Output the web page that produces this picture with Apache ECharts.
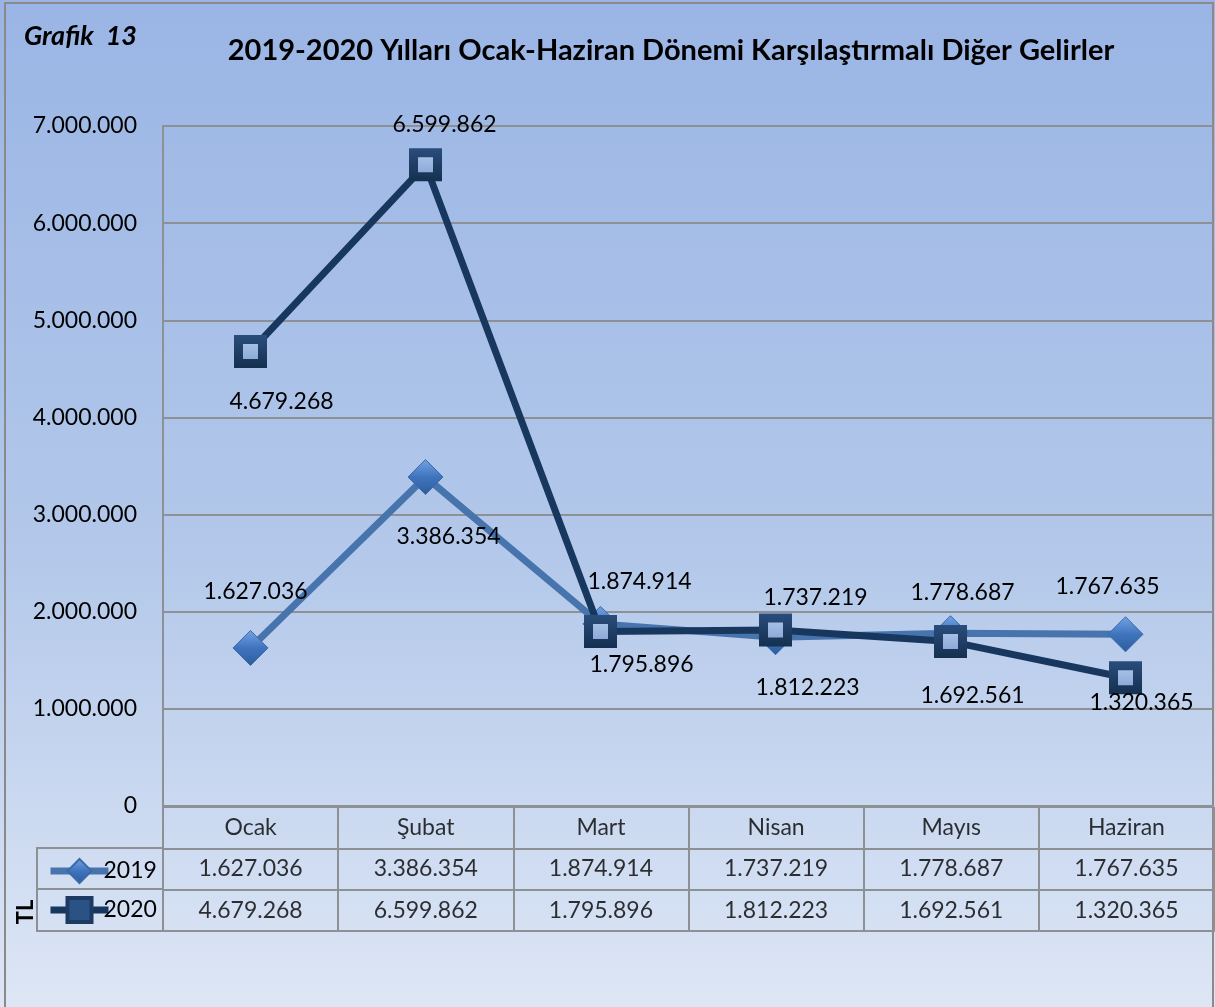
<!DOCTYPE html>
<html>
<head>
<meta charset="utf-8">
<script src="https://cdn.jsdelivr.net/npm/echarts@6/dist/echarts.min.js"></script>
<style>
  html, body { margin: 0; padding: 0; }
  #chart { width: 1215px; height: 1007px; }
</style>
</head>
<body>
<div id="chart"></div>
<script>
// veriler
const months = ['Ocak', 'Şubat', 'Mart', 'Nisan', 'Mayıs', 'Haziran']
const seriesNames = ['2019', '2020']
const gelir2019 = [1627036, 3386354, 1874914, 1737219, 1778687, 1767635]
const gelir2020 = [4679268, 6599862, 1795896, 1812223, 1692561, 1320365]
const yMax = 7000000
const yStep = 1000000

// etiket kaydırmaları (yerleşim)
const off2019 = [[5, -56], [23, 60], [39, -42], [40, -40], [12, -41], [-18, -48]]
const off2020 = [[31, 50], [19, -40], [41, 33], [32, 58], [22, 54], [16, 25]]

const FONT = 'Lato, "Open Sans", sans-serif'
const gridColor = '#8d9095'

// binlik ayırıcı nokta
const fmt = v => String(v).replace(/\B(?=(\d{3})+(?!\d))/g, '.')

const chart = echarts.init(document.getElementById('chart'), null, { renderer: 'canvas' })

const diamondFill = new echarts.graphic.LinearGradient(0, 0, 0, 1, [
  { offset: 0, color: '#74a4e4' },
  { offset: 0.5, color: '#3f74bd' },
  { offset: 1, color: '#2d5c9c' }
])
const squareFill = new echarts.graphic.LinearGradient(0, 0, 0, 1, [
  { offset: 0, color: '#b3cbee' },
  { offset: 1, color: '#7f9fd0' }
])
const squareBorder = new echarts.graphic.LinearGradient(0, 0, 0, 1, [
  { offset: 0, color: '#2a4d7c' },
  { offset: 1, color: '#15304f' }
])

// tablo hücreleri
const cells = []
months.forEach((m, i) => {
  cells.push([i, 0, m])
  cells.push([i, 1, fmt(gelir2019[i])])
  cells.push([i, 2, fmt(gelir2020[i])])
})

const option = {
  backgroundColor: new echarts.graphic.LinearGradient(0, 0, 0, 1, [
    { offset: 0, color: '#9ab5e5' },
    { offset: 0.55, color: '#b3c8ea' },
    { offset: 1, color: '#dde6f5' }
  ]),
  textStyle: { fontFamily: FONT },
  title: [
    {
      text: '2019-2020 Yılları Ocak-Haziran Dönemi Karşılaştırmalı Diğer Gelirler',
      left: 666,
      top: 31,
      textAlign: 'center',
      textStyle: { fontFamily: FONT, fontSize: 29, fontWeight: 'bold', color: '#000' }
    },
    {
      text: 'Grafik  13',
      left: 19,
      top: 18,
      textStyle: { fontFamily: FONT, fontSize: 27, fontWeight: 'bold', fontStyle: 'italic', color: '#000' }
    }
  ],
  legend: {
    data: [
      { name: '2019' },
      { name: '2020', itemStyle: { color: '#2b5284', borderColor: '#1d3a62', borderWidth: 4 } }
    ],
    orient: 'vertical',
    left: 42,
    top: 853,
    itemWidth: 58,
    itemHeight: 30,
    itemGap: 12,
    selectedMode: false,
    lineStyle: { width: 7 },
    textStyle: { fontFamily: FONT, fontSize: 23, color: '#000', padding: [0, 0, 0, -10] }
  },
  graphic: [
    {
      type: 'rect',
      shape: { x: 5, y: 3, width: 1208, height: 1010 },
      style: { fill: null, stroke: '#8a8a8a', lineWidth: 2 },
      silent: true
    },
    {
      type: 'rect',
      shape: { x: 37, y: 848, width: 126, height: 83 },
      style: { fill: null, stroke: gridColor, lineWidth: 2 },
      silent: true
    },
    {
      type: 'line',
      shape: { x1: 37, y1: 889, x2: 163, y2: 889 },
      style: { stroke: gridColor, lineWidth: 2 },
      silent: true
    },
    {
      type: 'text',
      x: 26,
      y: 912,
      rotation: Math.PI / 2,
      style: {
        text: 'TL',
        fontFamily: FONT,
        fontSize: 22,
        fontWeight: 'bold',
        fill: '#000',
        align: 'center',
        verticalAlign: 'middle'
      }
    }
  ],
  grid: [
    { left: 163, right: 2, top: 126, height: 680 },
    { left: 163, right: 1, top: 807, height: 124 }
  ],
  xAxis: [
    {
      type: 'category',
      gridIndex: 0,
      data: months,
      boundaryGap: true,
      axisLine: { show: true, lineStyle: { color: gridColor, width: 2 } },
      axisTick: { show: false },
      axisLabel: { show: false }
    },
    {
      type: 'category',
      gridIndex: 1,
      data: months,
      boundaryGap: true,
      axisLine: { show: true, lineStyle: { color: gridColor, width: 2 } },
      axisTick: { show: false },
      axisLabel: { show: false },
      splitLine: { show: true, lineStyle: { color: gridColor, width: 2 } }
    }
  ],
  yAxis: [
    {
      type: 'value',
      gridIndex: 0,
      min: 0,
      max: yMax,
      interval: yStep,
      axisLine: { show: true, lineStyle: { color: gridColor, width: 2 } },
      axisTick: { show: false },
      splitLine: { show: true, lineStyle: { color: gridColor, width: 2 } },
      axisLabel: {
        margin: 26,
        fontFamily: FONT,
        fontSize: 23,
        color: '#000',
        formatter: v => fmt(v)
      }
    },
    {
      type: 'category',
      gridIndex: 1,
      data: ['', '2019', '2020'],
      inverse: true,
      axisLine: { show: true, lineStyle: { color: gridColor, width: 2 } },
      axisTick: { show: false },
      axisLabel: { show: false },
      splitLine: { show: true, lineStyle: { color: gridColor, width: 2 } }
    }
  ],
  series: [
    {
      name: '2019',
      type: 'line',
      xAxisIndex: 0,
      yAxisIndex: 0,
      data: gelir2019.map((v, i) => ({ value: v, label: { offset: off2019[i] } })),
      symbol: 'diamond',
      symbolSize: 35,
      lineStyle: { color: '#4874ae', width: 7 },
      itemStyle: { color: diamondFill, borderColor: '#3a6aa8', borderWidth: 1 },
      label: {
        show: true,
        position: 'inside',
        fontFamily: FONT,
        fontSize: 23,
        color: '#000',
        formatter: p => fmt(p.value)
      },
      z: 3
    },
    {
      name: '2020',
      type: 'line',
      xAxisIndex: 0,
      yAxisIndex: 0,
      data: gelir2020.map((v, i) => ({ value: v, label: { offset: off2020[i] } })),
      symbol: 'rect',
      symbolSize: 24,
      lineStyle: { color: '#17375e', width: 7 },
      itemStyle: { color: squareFill, borderColor: squareBorder, borderWidth: 9 },
      label: {
        show: true,
        position: 'inside',
        fontFamily: FONT,
        fontSize: 23,
        color: '#000',
        formatter: p => fmt(p.value)
      },
      z: 4
    },
    {
      name: 'tablo',
      type: 'scatter',
      xAxisIndex: 1,
      yAxisIndex: 1,
      data: cells,
      symbolSize: 0,
      silent: true,
      label: {
        show: true,
        position: 'inside',
        fontFamily: FONT,
        fontSize: 23,
        color: '#000',
        formatter: p => p.value[2]
      }
    }
  ]
}

chart.setOption(option)
</script>
</body>
</html>
